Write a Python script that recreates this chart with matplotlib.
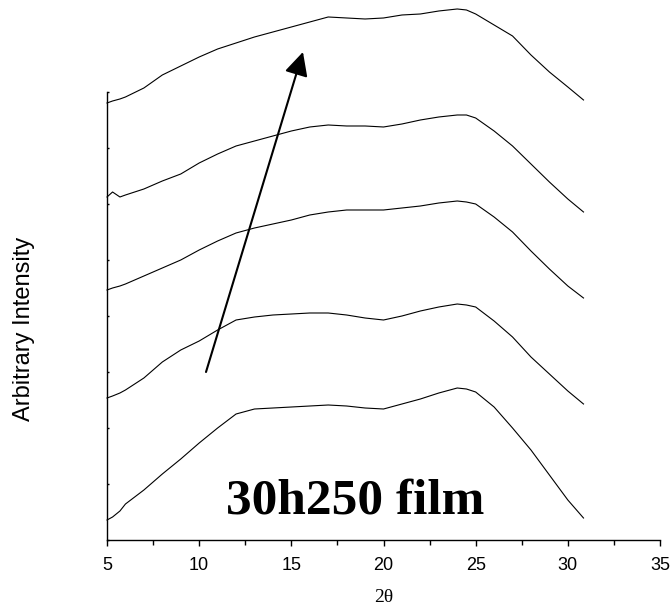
import matplotlib
matplotlib.use("Agg")
import matplotlib.pyplot as plt
from matplotlib.patches import ArrowStyle

# Diffraction angle grid (degrees, 2-theta)
two_theta = [5, 5.3, 5.7, 6, 7, 8, 9, 10, 11, 12, 13, 14, 15, 16, 17, 18, 19,
             20, 21, 22, 23, 24, 24.5, 25, 26, 27, 28, 29, 30, 30.85]

# Stacked XRD traces (arbitrary intensity, offset), bottom to top
trace_1 = [20, 23, 29, 36, 50, 66, 81, 97, 112, 126, 131, 132, 133, 134, 135,
           134, 132, 131, 136, 141, 147, 152, 151, 148, 133, 112, 90, 65, 40, 22]
trace_2 = [142, 144, 147, 150, 162, 178, 190, 199, 210, 220, 223, 225, 226, 227,
           227, 225, 222, 220, 224, 229, 233, 236, 235, 233, 219, 203, 183, 166, 149, 136]
trace_3 = [250, 252, 254, 256, 264, 272, 280, 290, 299, 307, 312, 316, 320, 325,
           328, 330, 330, 330, 332, 334, 337, 339, 338, 336, 323, 308, 289, 271, 254, 242]
trace_4 = [343, 348, 343, 345, 351, 359, 366, 377, 386, 394, 399, 404, 409, 413,
           415, 414, 414, 413, 416, 420, 423, 425, 425, 422, 409, 394, 376, 358, 341, 328]
trace_5 = [437, 439, 441, 443, 452, 465, 474, 483, 491, 497, 503, 508, 513, 518,
           523, 522, 521, 522, 525, 526, 529, 531, 530, 526, 515, 504, 485, 468, 453, 440]
traces = [trace_1, trace_2, trace_3, trace_4, trace_5]

# Arrow showing the trend across the stack
arrow_tail = (10.37, 168)
arrow_head = (15.63, 488)

x_ticks = [5, 10, 15, 20, 25, 30, 35]
sample_label = "30h250 film"

fig = plt.figure(figsize=(6.71, 6.06), dpi=100)
ax = fig.add_axes([0.1595, 0.1089, 0.8241, 0.7393])

for tr in traces:
    ax.plot(two_theta, tr, color="black", lw=0.8, clip_on=False)

ax.set_xlim(5, 35)
ax.set_ylim(0, 448)

ax.spines["top"].set_visible(False)
ax.spines["right"].set_visible(False)
ax.spines["left"].set_linewidth(1.0)
ax.spines["bottom"].set_linewidth(1.0)

ax.set_xticks(x_ticks)
ax.set_xticks([7.5, 12.5, 17.5, 22.5, 27.5, 32.5], minor=True)
ax.tick_params(axis="x", which="major", direction="out", length=4, width=1.0,
               labelsize=13, pad=8)
ax.tick_params(axis="x", which="minor", direction="out", length=3.5, width=1.0)
for lab in ax.get_xticklabels():
    lab.set_fontfamily("Liberation Sans")

ax.set_yticks(range(0, 449, 56))
ax.tick_params(axis="y", direction="in", length=1.5, width=1.0, labelleft=False)

ax.set_xlabel("2θ", fontsize=14, family="Liberation Serif", labelpad=11)
ax.set_ylabel("Arbitrary Intensity", fontsize=17, family="Liberation Sans")
ax.yaxis.set_label_coords(-0.130, 0.471)

ax.annotate("", xy=arrow_head, xytext=arrow_tail,
            arrowprops=dict(arrowstyle=ArrowStyle("-|>", head_length=0.4, head_width=0.2),
                            mutation_scale=36, lw=1.5, color="black",
                            shrinkA=0, shrinkB=0),
            annotation_clip=False)

ax.text(11.46, 27, sample_label, fontsize=37, fontweight="bold",
        family="Liberation Serif", ha="left", va="baseline")

fig.savefig("out.png", dpi=100)
